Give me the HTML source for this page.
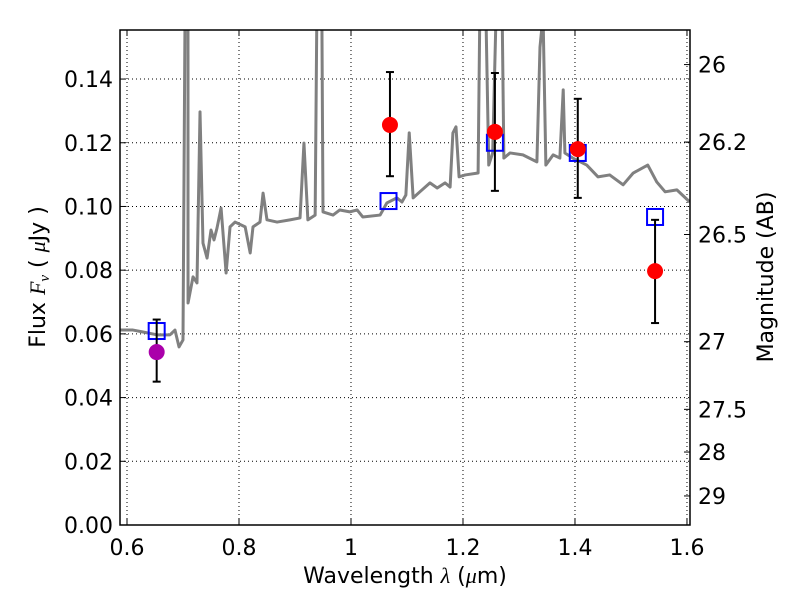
<!DOCTYPE html>
<html><head><meta charset="utf-8"><style>
body{margin:0;background:#fff;}
svg text{font-family:"DejaVu Sans","Liberation Sans",sans-serif;fill:#000;}
</style></head><body>
<svg id="chart" width="800" height="600" xmlns="http://www.w3.org/2000/svg"></svg>
<script>
const specWl=[0.5875,0.6107,0.6286,0.6536,0.6768,0.6857,0.6929,0.7000,0.7036,0.7089,0.709,0.7179,0.725,0.7304,0.7357,0.743,0.75,0.7554,0.7607,0.768,0.777,0.784,0.793,0.811,0.82,0.825,0.8375,0.843,0.85,0.868,0.891,0.909,0.916,0.923,0.936,0.939,0.948,0.95,0.968,0.98,0.998,1.011,1.021,1.052,1.064,1.082,1.091,1.098,1.104,1.111,1.123,1.141,1.154,1.168,1.177,1.182,1.1875,1.193,1.204,1.227,1.23,1.241,1.246,1.253,1.259,1.27,1.273,1.284,1.307,1.332,1.3375,1.343,1.348,1.361,1.373,1.379,1.382,1.396,1.421,1.441,1.462,1.486,1.504,1.53,1.546,1.561,1.582,1.605];
const specFlux=[0.0612,0.0612,0.0606,0.0597,0.0597,0.0612,0.0559,0.0581,0.16,0.16,0.0697,0.0779,0.076,0.1297,0.0885,0.0838,0.0926,0.0895,0.0932,0.0995,0.0791,0.0936,0.0951,0.0936,0.0854,0.0936,0.0951,0.1042,0.0958,0.0951,0.0958,0.0964,0.1199,0.0958,0.0973,0.16,0.16,0.0983,0.0973,0.0989,0.0983,0.0989,0.0967,0.0973,0.1011,0.1027,0.1014,0.1036,0.1231,0.1027,0.1046,0.1074,0.1058,0.1074,0.1061,0.1231,0.125,0.1093,0.1099,0.1105,0.16,0.16,0.113,0.1168,0.16,0.16,0.1152,0.1168,0.1162,0.114,0.15,0.16,0.113,0.1162,0.1152,0.1366,0.1168,0.1152,0.113,0.1093,0.1099,0.1068,0.1105,0.113,0.1077,0.1046,0.1052,0.1014];
const obsWl=[1.0696,1.257,1.405,1.543];
const obsFlux=[0.1256,0.1234,0.118,0.0797];
const obsHi=[0.1422,0.1419,0.1338,0.0958];
const obsLo=[0.1095,0.1049,0.1027,0.0634];
const magWl=[0.653];const magFlux=[0.0543];const magHi=[0.0645];const magLo=[0.045];
const modelWl=[0.653,1.067,1.257,1.405,1.543];
const modelFlux=[0.0609,0.1017,0.12,0.1168,0.0967];
const xTicks=[0.6,0.8,1.0,1.2,1.4,1.6];
const xTickLabels=["0.6","0.8","1","1.2","1.4","1.6"];
const yTicks=[0,0.02,0.04,0.06,0.08,0.10,0.12,0.14];
const yTickLabels=["0.00","0.02","0.04","0.06","0.08","0.10","0.12","0.14"];
const magTicks=[26,26.2,26.5,27,27.5,28,29];
const magTickLabels=["26","26.2","26.5","27","27.5","28","29"];

const L=120,R=690,T=30,B=525,X0=0.5875,X1=1.6054,Y0=0,Y1=0.1554;
const sx=v=>L+(v-X0)/(X1-X0)*(R-L);
const sy=v=>B-(v-Y0)/(Y1-Y0)*(B-T);
const NS="http://www.w3.org/2000/svg";
const svg=document.getElementById('chart');
function mk(tag,attrs,parent){const e=document.createElementNS(NS,tag);for(const k in attrs)e.setAttribute(k,attrs[k]);(parent||svg).appendChild(e);return e;}

const defs=mk('defs',{});const cp=mk('clipPath',{id:'clip'},defs);mk('rect',{x:L,y:T,width:R-L,height:B-T},cp);

const grid=mk('g',{});


xTicks.forEach((v,i)=>{
  const x=sx(v);
  mk('line',{x1:x,x2:x,y1:T,y2:B,stroke:'#000','stroke-width':1,'stroke-dasharray':'1,3'},grid);
  mk('line',{x1:x,x2:x,y1:B,y2:B-6,stroke:'#000'},grid);
  mk('line',{x1:x,x2:x,y1:T,y2:T+6,stroke:'#000'},grid);
  const t=mk('text',{x:x,y:B+30,'text-anchor':'middle','font-size':22});
  t.textContent=xTickLabels[i];
  
  
});
yTicks.forEach((v,i)=>{
  const y=sy(v);
  mk('line',{x1:L,x2:R,y1:y,y2:y,stroke:'#000','stroke-width':1,'stroke-dasharray':'1,3'},grid);
  mk('line',{x1:L,x2:L+6,y1:y,y2:y,stroke:'#000'},grid);
  const t=mk('text',{x:L-7,y:y+8,'text-anchor':'end','font-size':22});
  t.textContent=yTickLabels[i];
  
  
});
magTicks.forEach((m,i)=>{
  const y=sy(Math.pow(10,(23.9-m)/2.5));
  mk('line',{x1:R,x2:R-6,y1:y,y2:y,stroke:'#000'},grid);
  const t=mk('text',{x:R+8,y:y+8,'text-anchor':'start','font-size':22});
  t.textContent=magTickLabels[i];
  
  
});

const sp=mk('polyline',{points:specWl.map((w,i)=>sx(w)+','+sy(specFlux[i])).join(' '),fill:'none',stroke:'#808080','stroke-width':3,'clip-path':'url(#clip)','stroke-linejoin':'round'});



modelWl.forEach((w,i)=>{
  const r=mk('rect',{x:sx(w)-8,y:sy(modelFlux[i])-8,width:16,height:16,fill:'none',stroke:'#0000ff','stroke-width':2});
  
  
});
function errbar(w,hi,lo){
  const g=mk('g',{});
  
  
  const x=sx(w);
  mk('line',{x1:x,x2:x,y1:sy(hi),y2:sy(lo),stroke:'#000','stroke-width':2},g);
  mk('line',{x1:x-4,x2:x+4,y1:sy(hi),y2:sy(hi),stroke:'#000','stroke-width':2},g);
  mk('line',{x1:x-4,x2:x+4,y1:sy(lo),y2:sy(lo),stroke:'#000','stroke-width':2},g);
}
magWl.forEach((w,i)=>{
  errbar(w,magHi[i],magLo[i]);
  const c=mk('circle',{cx:sx(w),cy:sy(magFlux[i]),r:8,fill:'#aa00aa'});
  
  
});
obsWl.forEach((w,i)=>{
  errbar(w,obsHi[i],obsLo[i]);
  const c=mk('circle',{cx:sx(w),cy:sy(obsFlux[i]),r:8,fill:'#ff0000'});
  
  
});
mk('rect',{x:L,y:T,width:R-L,height:B-T,fill:'none',stroke:'#000','stroke-width':1.5});
</script>
<svg style="position:absolute;left:0;top:0" width="800" height="600" xmlns="http://www.w3.org/2000/svg">
<text x="405" y="583" text-anchor="middle" font-size="22">Wavelength  <tspan font-style="italic" font-family="Liberation Serif">λ</tspan> (<tspan font-style="italic" font-family="Liberation Serif">μ</tspan>m)</text>
<text transform="translate(45,277) rotate(-90)" text-anchor="middle" font-size="22">Flux  <tspan font-style="italic" font-family="Liberation Serif">F<tspan font-size="15" dy="4">ν</tspan></tspan><tspan dy="-4">  (  </tspan><tspan font-style="italic" font-family="Liberation Serif">μ</tspan>Jy )</text>
<text transform="translate(773,277) rotate(-90)" text-anchor="middle" font-size="22">Magnitude (AB)</text>
</svg>
</body></html>
